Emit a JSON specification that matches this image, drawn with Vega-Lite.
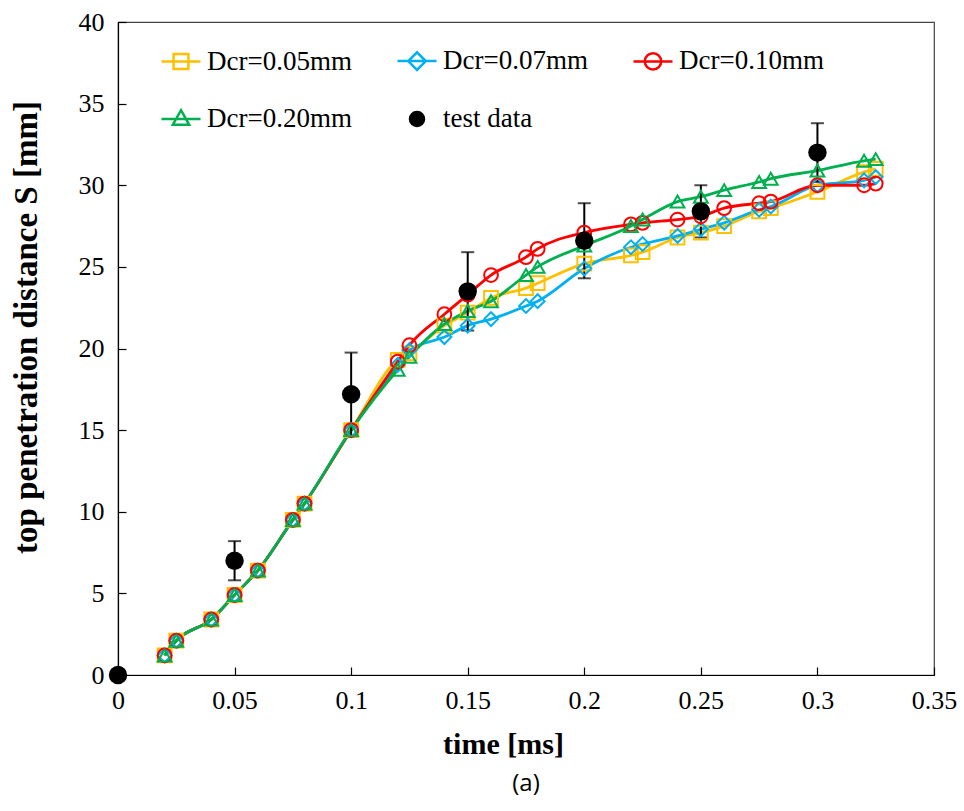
{
  "$schema": "https://vega.github.io/schema/vega-lite/v6.json",
  "width": 816,
  "height": 653,
  "autosize": {"type": "none"},
  "padding": {"left": 118, "top": 22, "right": 30, "bottom": 136},
  "background": "white",
  "title": {"text": "(a)", "orient": "bottom", "anchor": "middle", "font": "Open Sans", "fontSize": 24, "fontWeight": "normal", "color": "#000", "offset": 13},
  "config": {
    "font": "Liberation Serif",
    "view": {"stroke": "#444", "strokeWidth": 1.2},
    "axis": {"domainColor": "#000", "domainWidth": 1.2, "tickColor": "#000", "tickWidth": 1.2, "tickSize": -8, "grid": false,
      "labelFont": "Liberation Serif", "labelFontSize": 26, "labelColor": "#000", "labelFlush": false,
      "titleFont": "Liberation Serif", "titleFontSize": 30, "titleFontWeight": "bold", "titleColor": "#000"},
    "legend": {"labelFont": "Liberation Serif", "labelFontSize": 27, "labelColor": "#000"}
  },
  "datasets": {
    "sim": [
      {"t": 0.02, "S": 1.2, "series": "Dcr=0.05mm"}, {"t": 0.025, "S": 2.1, "series": "Dcr=0.05mm"}, {"t": 0.04, "S": 3.4, "series": "Dcr=0.05mm"}, {"t": 0.05, "S": 4.9, "series": "Dcr=0.05mm"}, {"t": 0.06, "S": 6.4, "series": "Dcr=0.05mm"}, {"t": 0.075, "S": 9.5, "series": "Dcr=0.05mm"}, {"t": 0.08, "S": 10.5, "series": "Dcr=0.05mm"}, {"t": 0.1, "S": 15.0, "series": "Dcr=0.05mm"},
      {"t": 0.12, "S": 19.3, "series": "Dcr=0.05mm"}, {"t": 0.125, "S": 19.7, "series": "Dcr=0.05mm"}, {"t": 0.14, "S": 21.4, "series": "Dcr=0.05mm"}, {"t": 0.15, "S": 22.2, "series": "Dcr=0.05mm"}, {"t": 0.16, "S": 23.1, "series": "Dcr=0.05mm"}, {"t": 0.175, "S": 23.7, "series": "Dcr=0.05mm"}, {"t": 0.18, "S": 24.0, "series": "Dcr=0.05mm"}, {"t": 0.2, "S": 25.2, "series": "Dcr=0.05mm"}, {"t": 0.22, "S": 25.7, "series": "Dcr=0.05mm"}, {"t": 0.225, "S": 25.9, "series": "Dcr=0.05mm"}, {"t": 0.24, "S": 26.8, "series": "Dcr=0.05mm"}, {"t": 0.25, "S": 27.1, "series": "Dcr=0.05mm"}, {"t": 0.26, "S": 27.5, "series": "Dcr=0.05mm"}, {"t": 0.275, "S": 28.4, "series": "Dcr=0.05mm"}, {"t": 0.28, "S": 28.6, "series": "Dcr=0.05mm"}, {"t": 0.3, "S": 29.6, "series": "Dcr=0.05mm"}, {"t": 0.32, "S": 30.8, "series": "Dcr=0.05mm"}, {"t": 0.325, "S": 31.0, "series": "Dcr=0.05mm"},
      {"t": 0.02, "S": 1.2, "series": "Dcr=0.07mm"}, {"t": 0.025, "S": 2.1, "series": "Dcr=0.07mm"}, {"t": 0.04, "S": 3.4, "series": "Dcr=0.07mm"}, {"t": 0.05, "S": 4.9, "series": "Dcr=0.07mm"}, {"t": 0.06, "S": 6.4, "series": "Dcr=0.07mm"}, {"t": 0.075, "S": 9.5, "series": "Dcr=0.07mm"}, {"t": 0.08, "S": 10.5, "series": "Dcr=0.07mm"}, {"t": 0.1, "S": 15.0, "series": "Dcr=0.07mm"},
      {"t": 0.12, "S": 19.0, "series": "Dcr=0.07mm"}, {"t": 0.125, "S": 19.9, "series": "Dcr=0.07mm"}, {"t": 0.14, "S": 20.7, "series": "Dcr=0.07mm"}, {"t": 0.15, "S": 21.4, "series": "Dcr=0.07mm"}, {"t": 0.16, "S": 21.8, "series": "Dcr=0.07mm"}, {"t": 0.175, "S": 22.6, "series": "Dcr=0.07mm"}, {"t": 0.18, "S": 22.9, "series": "Dcr=0.07mm"}, {"t": 0.2, "S": 24.9, "series": "Dcr=0.07mm"}, {"t": 0.22, "S": 26.2, "series": "Dcr=0.07mm"}, {"t": 0.225, "S": 26.4, "series": "Dcr=0.07mm"}, {"t": 0.24, "S": 26.9, "series": "Dcr=0.07mm"}, {"t": 0.25, "S": 27.3, "series": "Dcr=0.07mm"}, {"t": 0.26, "S": 27.7, "series": "Dcr=0.07mm"}, {"t": 0.275, "S": 28.5, "series": "Dcr=0.07mm"}, {"t": 0.28, "S": 28.7, "series": "Dcr=0.07mm"}, {"t": 0.3, "S": 30.0, "series": "Dcr=0.07mm"}, {"t": 0.32, "S": 30.3, "series": "Dcr=0.07mm"}, {"t": 0.325, "S": 30.5, "series": "Dcr=0.07mm"},
      {"t": 0.02, "S": 1.2, "series": "Dcr=0.10mm"}, {"t": 0.025, "S": 2.1, "series": "Dcr=0.10mm"}, {"t": 0.04, "S": 3.4, "series": "Dcr=0.10mm"}, {"t": 0.05, "S": 4.9, "series": "Dcr=0.10mm"}, {"t": 0.06, "S": 6.4, "series": "Dcr=0.10mm"}, {"t": 0.075, "S": 9.5, "series": "Dcr=0.10mm"}, {"t": 0.08, "S": 10.5, "series": "Dcr=0.10mm"}, {"t": 0.1, "S": 15.0, "series": "Dcr=0.10mm"},
      {"t": 0.12, "S": 19.2, "series": "Dcr=0.10mm"}, {"t": 0.125, "S": 20.2, "series": "Dcr=0.10mm"}, {"t": 0.14, "S": 22.1, "series": "Dcr=0.10mm"}, {"t": 0.15, "S": 23.3, "series": "Dcr=0.10mm"}, {"t": 0.16, "S": 24.5, "series": "Dcr=0.10mm"}, {"t": 0.175, "S": 25.6, "series": "Dcr=0.10mm"}, {"t": 0.18, "S": 26.1, "series": "Dcr=0.10mm"}, {"t": 0.2, "S": 27.1, "series": "Dcr=0.10mm"}, {"t": 0.22, "S": 27.6, "series": "Dcr=0.10mm"}, {"t": 0.225, "S": 27.7, "series": "Dcr=0.10mm"}, {"t": 0.24, "S": 27.9, "series": "Dcr=0.10mm"}, {"t": 0.25, "S": 28.1, "series": "Dcr=0.10mm"}, {"t": 0.26, "S": 28.6, "series": "Dcr=0.10mm"}, {"t": 0.275, "S": 28.9, "series": "Dcr=0.10mm"}, {"t": 0.28, "S": 29.0, "series": "Dcr=0.10mm"}, {"t": 0.3, "S": 30.0, "series": "Dcr=0.10mm"}, {"t": 0.32, "S": 30.0, "series": "Dcr=0.10mm"}, {"t": 0.325, "S": 30.1, "series": "Dcr=0.10mm"},
      {"t": 0.02, "S": 1.2, "series": "Dcr=0.20mm"}, {"t": 0.025, "S": 2.1, "series": "Dcr=0.20mm"}, {"t": 0.04, "S": 3.4, "series": "Dcr=0.20mm"}, {"t": 0.05, "S": 4.9, "series": "Dcr=0.20mm"}, {"t": 0.06, "S": 6.4, "series": "Dcr=0.20mm"}, {"t": 0.075, "S": 9.5, "series": "Dcr=0.20mm"}, {"t": 0.08, "S": 10.5, "series": "Dcr=0.20mm"}, {"t": 0.1, "S": 15.0, "series": "Dcr=0.20mm"},
      {"t": 0.12, "S": 18.7, "series": "Dcr=0.20mm"}, {"t": 0.125, "S": 19.5, "series": "Dcr=0.20mm"}, {"t": 0.14, "S": 21.5, "series": "Dcr=0.20mm"}, {"t": 0.15, "S": 22.3, "series": "Dcr=0.20mm"}, {"t": 0.16, "S": 22.9, "series": "Dcr=0.20mm"}, {"t": 0.175, "S": 24.5, "series": "Dcr=0.20mm"}, {"t": 0.18, "S": 25.0, "series": "Dcr=0.20mm"}, {"t": 0.2, "S": 26.3, "series": "Dcr=0.20mm"}, {"t": 0.22, "S": 27.5, "series": "Dcr=0.20mm"}, {"t": 0.225, "S": 27.9, "series": "Dcr=0.20mm"}, {"t": 0.24, "S": 29.0, "series": "Dcr=0.20mm"}, {"t": 0.25, "S": 29.3, "series": "Dcr=0.20mm"}, {"t": 0.26, "S": 29.7, "series": "Dcr=0.20mm"}, {"t": 0.275, "S": 30.2, "series": "Dcr=0.20mm"}, {"t": 0.28, "S": 30.4, "series": "Dcr=0.20mm"}, {"t": 0.3, "S": 30.9, "series": "Dcr=0.20mm"}, {"t": 0.32, "S": 31.5, "series": "Dcr=0.20mm"}, {"t": 0.325, "S": 31.6, "series": "Dcr=0.20mm"}
    ],
    "test": [
      {"t": 0, "S": 0, "series": "test data"},
      {"t": 0.05, "S": 7.0, "lo": 5.8, "hi": 8.2, "series": "test data"},
      {"t": 0.1, "S": 17.2, "lo": 14.65, "hi": 19.75, "series": "test data"},
      {"t": 0.15, "S": 23.5, "lo": 21.1, "hi": 25.9, "series": "test data"},
      {"t": 0.2, "S": 26.6, "lo": 24.3, "hi": 28.9, "series": "test data"},
      {"t": 0.25, "S": 28.4, "lo": 26.8, "hi": 30.0, "series": "test data"},
      {"t": 0.3, "S": 32.0, "lo": 30.2, "hi": 33.8, "series": "test data"}
    ]
  },
  "layer": [
    {
      "data": {"name": "sim"},
      "mark": {"type": "line", "interpolate": "monotone", "strokeWidth": 2.8},
      "encoding": {
        "x": {"field": "t", "type": "quantitative", "scale": {"domain": [0, 0.35], "nice": false},
          "axis": {"title": "time [ms]", "values": [0, 0.05, 0.1, 0.15, 0.2, 0.25, 0.3, 0.35], "format": "~g", "labelFont": "Liberation Serif", "labelFontSize": 26, "labelPadding": 20, "titlePadding": 16, "titleX": 385}},
        "y": {"field": "S", "type": "quantitative", "scale": {"domain": [0, 40], "nice": false},
          "axis": {"title": "top penetration distance S [mm]", "titleFontSize": 33, "values": [0, 5, 10, 15, 20, 25, 30, 35, 40], "labelFont": "Liberation Serif", "labelFontSize": 26, "labelPadding": 22, "titlePadding": 35, "titleY": 305}},
        "color": {"field": "series", "type": "nominal", "scale": {"domain": ["Dcr=0.05mm", "Dcr=0.07mm", "Dcr=0.10mm", "Dcr=0.20mm", "test data"], "range": ["#FFC000", "#00B0F0", "#FF0000", "#00B050", "#000000"]},
          "legend": {"orient": "none", "legendX": 42, "legendY": 18, "columns": 3, "title": null, "direction": "horizontal",
            "symbolSize": 1521, "symbolStrokeWidth": 2.5, "labelOffset": 5, "columnPadding": 40, "rowPadding": 23, "padding": 0,
            "labelFont": "Liberation Serif", "labelFontSize": 27, "labelColor": "#000",
            "encode": {"symbols": {"update": {
              "shape": {"signal": "datum.value === 'Dcr=0.05mm' ? 'M-1,0H1M-0.38,-0.38H0.38V0.38H-0.38Z' : datum.value === 'Dcr=0.07mm' ? 'M-1,0H1M-0.45,0L0,-0.45L0.45,0L0,0.45Z' : datum.value === 'Dcr=0.10mm' ? 'M-1,0H1M-0.42,0A0.42,0.42,0,1,0,0.42,0A0.42,0.42,0,1,0,-0.42,0Z' : datum.value === 'Dcr=0.20mm' ? 'M-1,0H1M0,-0.45L0.42,0.3H-0.42Z' : 'M-0.36,0A0.36,0.36,0,1,0,0.36,0A0.36,0.36,0,1,0,-0.36,0Z'"},
              "fill": {"signal": "datum.value === 'test data' ? '#000' : 'transparent'"},
              "stroke": {"signal": "scale('color', datum.value)"},
              "strokeWidth": {"value": 2.5},
              "opacity": {"value": 1}
            }}}}}
      }
    },
    {
      "data": {"name": "test"},
      "mark": {"type": "rule", "color": "#000", "strokeWidth": 2},
      "encoding": {
        "x": {"field": "t", "type": "quantitative"},
        "y": {"field": "lo", "type": "quantitative"},
        "y2": {"field": "hi"}
      }
    },
    {
      "data": {"name": "test"},
      "mark": {"type": "tick", "orient": "horizontal", "color": "#000", "thickness": 2, "size": 13},
      "encoding": {
        "x": {"field": "t", "type": "quantitative"},
        "y": {"field": "hi", "type": "quantitative"}
      }
    },
    {
      "data": {"name": "test"},
      "mark": {"type": "tick", "orient": "horizontal", "color": "#000", "thickness": 2, "size": 13},
      "encoding": {
        "x": {"field": "t", "type": "quantitative"},
        "y": {"field": "lo", "type": "quantitative"}
      }
    },
    {
      "data": {"name": "sim"},
      "mark": {"type": "point", "strokeWidth": 2, "size": 190, "opacity": 1},
      "encoding": {
        "x": {"field": "t", "type": "quantitative"},
        "y": {"field": "S", "type": "quantitative"},
        "stroke": {"field": "series", "type": "nominal", "scale": {"domain": ["Dcr=0.05mm", "Dcr=0.07mm", "Dcr=0.10mm", "Dcr=0.20mm"], "range": ["#FFC000", "#00B0F0", "#FF0000", "#00B050"]}, "legend": null},
        "shape": {"field": "series", "type": "nominal", "scale": {"domain": ["Dcr=0.05mm", "Dcr=0.07mm", "Dcr=0.10mm", "Dcr=0.20mm"], "range": ["square", "diamond", "circle", "triangle-up"]}, "legend": null}
      }
    },
    {
      "data": {"name": "test"},
      "mark": {"type": "point", "filled": true, "size": 340, "opacity": 1, "color": "#000"},
      "encoding": {
        "x": {"field": "t", "type": "quantitative"},
        "y": {"field": "S", "type": "quantitative"}
      }
    }
  ]
}
